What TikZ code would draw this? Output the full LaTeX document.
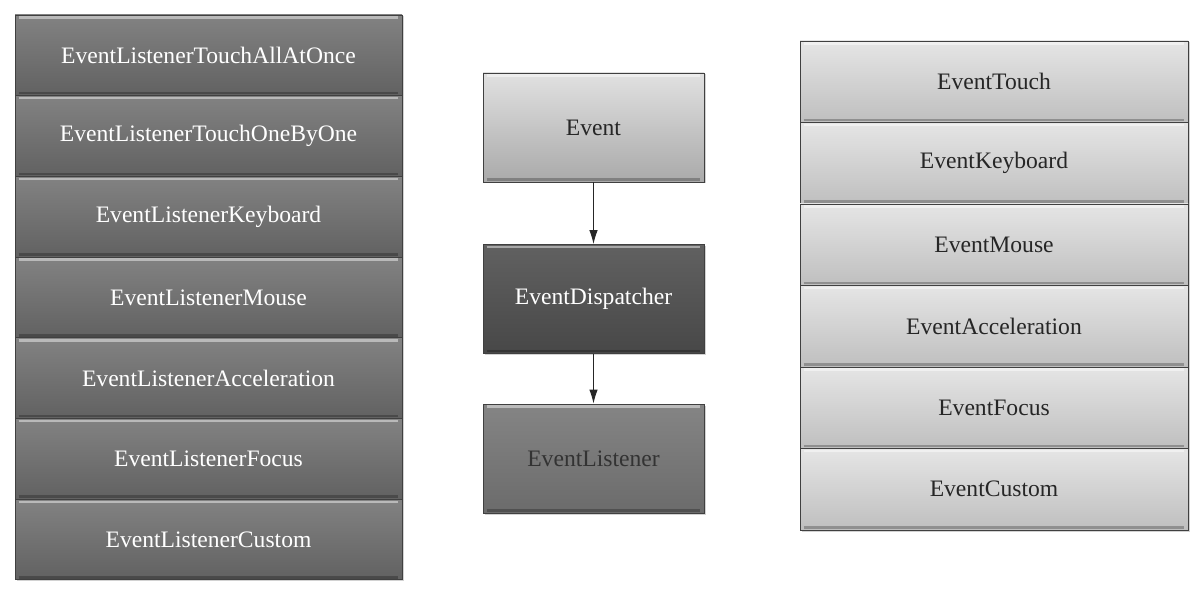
\documentclass[tikz,border=0pt]{standalone}
\usepackage{fontspec}
\setmainfont{Liberation Serif}
\usetikzlibrary{arrows.meta,shadows}
\definecolor{darkbox}{RGB}{108,108,108}
\definecolor{lightbox}{RGB}{212,212,212}
\begin{document}
\begin{tikzpicture}[x=1pt,y=-1pt,
  box/.style={rectangle,draw=black!75,line width=0.9pt,inner sep=0pt,
    font=\fontsize{23.6}{27}\selectfont,
    drop shadow={shadow xshift=1.5pt,shadow yshift=-1.5pt,opacity=.35}},
  leftbox/.style={box,minimum width=387pt,minimum height=80.7pt,
    top color=darkbox!85!white,bottom color=darkbox!90!black,text=white},
  rightbox/.style={box,minimum width=388pt,minimum height=81.5pt,
    top color=lightbox!60!white,bottom color=lightbox!90!black,text=black!85},
  midbox/.style={box,minimum width=221pt,minimum height=109pt},
  arr/.style={draw=black!85,line width=0.9pt,-{Latex[length=14pt,width=8.5pt]}}]
\path[use as bounding box,fill=white] (0,0) rectangle (1200,596);

% left column
\foreach \t [count=\i] in {EventListenerTouchAllAtOnce,EventListenerTouchOneByOne,EventListenerKeyboard,EventListenerMouse,EventListenerAcceleration,EventListenerFocus,EventListenerCustom}{
  \node[leftbox] (l\i) at (208.5,{15+80.7*(\i-0.5)}) {\t};
}
% right column
\foreach \t [count=\i] in {EventTouch,EventKeyboard,EventMouse,EventAcceleration,EventFocus,EventCustom}{
  \node[rightbox] (r\i) at (994,{41+81.5*(\i-0.5)}) {\t};
}
% middle
\node[midbox,top color=lightbox!70!white,bottom color=lightbox!80!black,text=black!85] (ev) at (593.5,127.5) {Event};
\node[midbox,top color=black!62,bottom color=black!72,text=white] (disp) at (593.5,299) {EventDispatcher};
\node[midbox,top color=black!48,bottom color=black!58,text=black!80] (lis) at (593.5,458.5) {EventListener};

% bevel highlights
\foreach \n in {l1,l2,l3,l4,l5,l6,l7,r1,r2,r3,r4,r5,r6,ev,disp,lis}{
  \draw[white,opacity=.45,line width=2.5pt] ([xshift=4pt,yshift=-3pt]\n.north west) -- ([xshift=-4pt,yshift=-3pt]\n.north east);
  \draw[black,opacity=.25,line width=2.5pt] ([xshift=4pt,yshift=3pt]\n.south west) -- ([xshift=-4pt,yshift=3pt]\n.south east);
}

\draw[arr] (ev) -- (disp);
\draw[arr] (disp) -- (lis);
\end{tikzpicture}
\end{document}
